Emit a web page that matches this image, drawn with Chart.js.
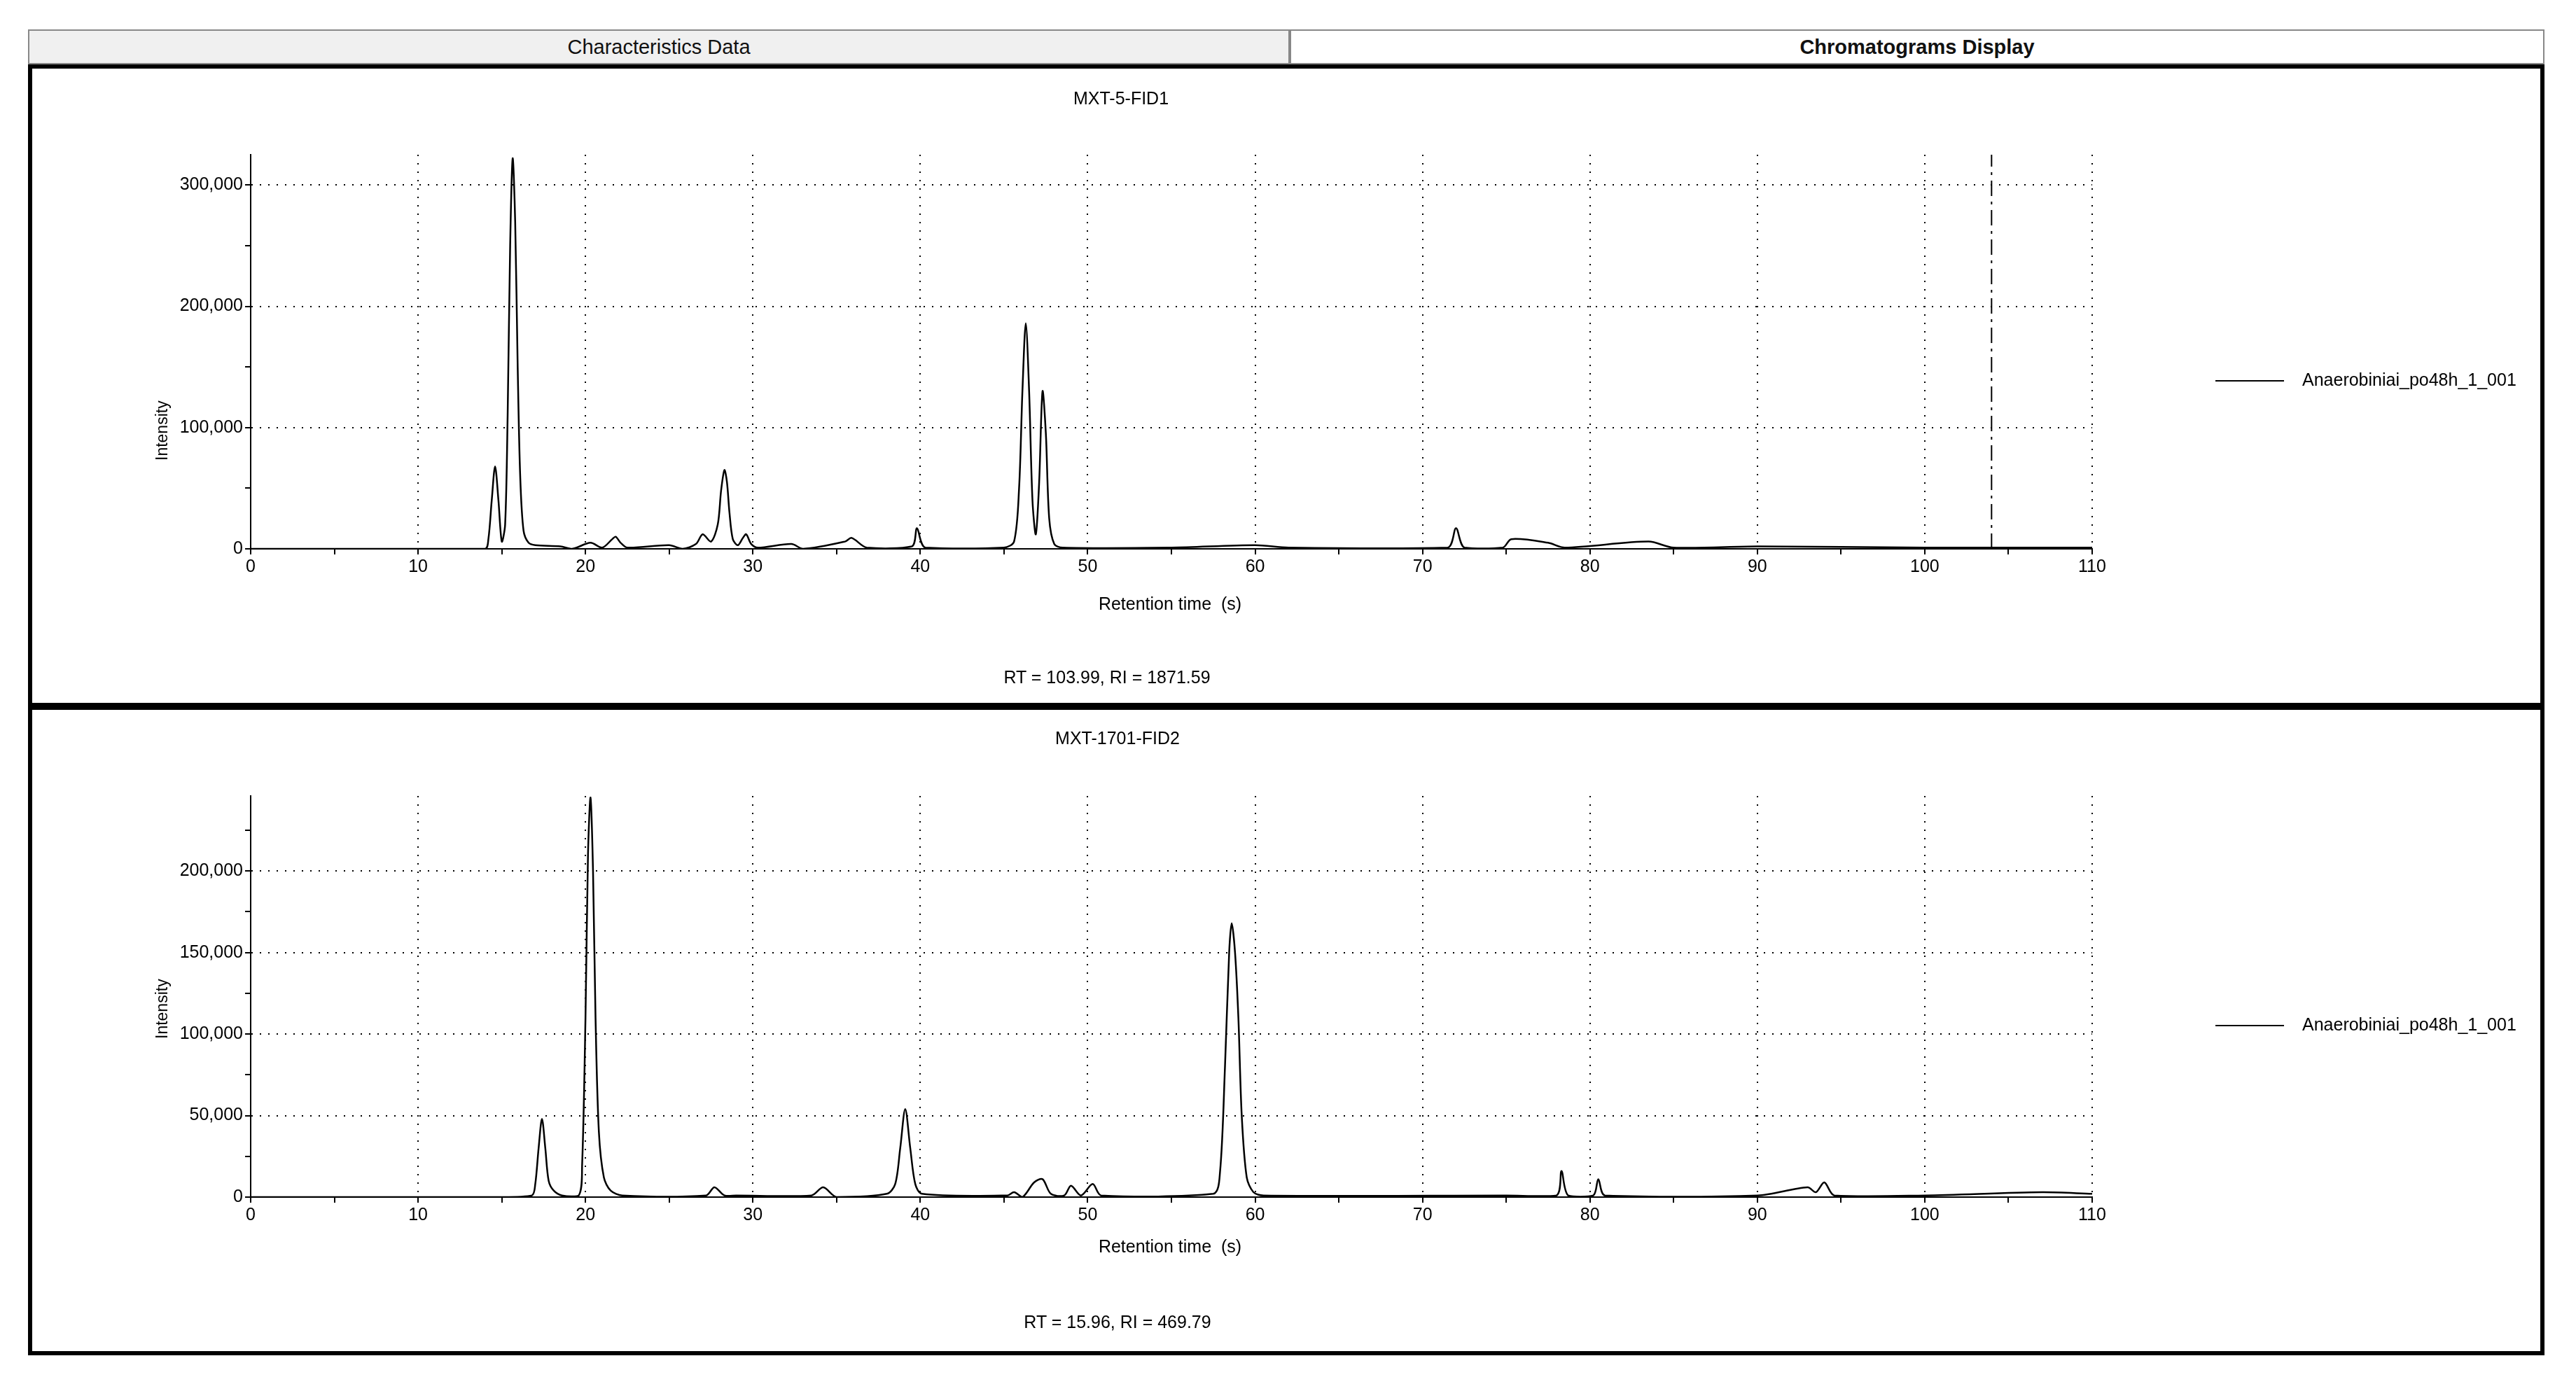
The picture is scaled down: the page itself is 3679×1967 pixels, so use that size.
<!DOCTYPE html>
<html>
<head>
<meta charset="utf-8">
<script src="https://cdn.jsdelivr.net/npm/chart.js@4.4.1/dist/chart.umd.min.js"></script>
<style>
body { margin:0; background:#fff; font-family:"Liberation Sans Narrow", "Liberation Sans", Arial, sans-serif; }
#page { position:relative; width:3679px; height:1967px; background:#fff; }
.tab { position:absolute; top:42px; height:50px; border:2px solid #888; box-sizing:border-box; background:#f0f0f0;
       text-align:center; line-height:46px; font-size:29px; color:#111; }
.panel { position:absolute; left:40px; width:3594px; border:6px solid #000; box-sizing:border-box; background:#fff; }
.txt { position:absolute; font-size:25px; color:#000; white-space:nowrap; transform:translateX(-50%); }
.ylab { position:absolute; font-size:23px; transform:rotate(-90deg); transform-origin:left top; }
.leg { position:absolute; font-size:25px; white-space:nowrap; }
.leg span.l { display:inline-block; width:98px; height:0; border-top:2px solid #000; vertical-align:middle; margin-right:26px; }
canvas { position:absolute; left:0; top:0; }
</style>
</head>
<body>
<div id="page">
  <div class="tab" style="left:40px;width:1802px;">Characteristics Data</div>
  <div class="tab" style="left:1842px;width:1792px;background:#fff;font-weight:bold;">Chromatograms Display</div>

  <div class="panel" style="top:92px;height:918px;">
    <div style="position:absolute;left:0;top:0;width:3582px;height:906px;"><canvas id="c1"></canvas></div>
    <div class="txt" style="left:1555px;top:28px;">MXT-5-FID1</div>
    <div class="ylab" style="left:172px;top:560px;">Intensity</div>
    <div class="txt" style="left:1625px;top:750px;">Retention time&nbsp; (s)</div>
    <div class="txt" style="left:1535px;top:855px;">RT = 103.99, RI = 1871.59</div>
    <div class="leg" style="left:3118px;top:430px;"><span class="l"></span>Anaerobiniai_po48h_1_001</div>
  </div>

  <div class="panel" style="top:1008px;height:928px;">
    <div style="position:absolute;left:0;top:0;width:3582px;height:916px;"><canvas id="c2"></canvas></div>
    <div class="txt" style="left:1550px;top:26px;">MXT-1701-FID2</div>
    <div class="ylab" style="left:172px;top:470px;">Intensity</div>
    <div class="txt" style="left:1625px;top:752px;">Retention time&nbsp; (s)</div>
    <div class="txt" style="left:1550px;top:860px;">RT = 15.96, RI = 469.79</div>
    <div class="leg" style="left:3118px;top:435px;"><span class="l"></span>Anaerobiniai_po48h_1_001</div>
  </div>
</div>

<script>
// MXT-5-FID1 chromatogram: retention time (s) and intensity
const rt1 = [0, 14.0, 14.2, 14.4, 14.6, 14.8, 15.0, 15.2, 15.35, 15.5, 15.65, 15.8, 15.95, 16.1, 16.3, 16.6, 17.0, 18.5, 19.2, 20.3, 21.0, 21.6, 21.8, 22.1, 22.5, 25.0, 25.8, 26.6, 27.0, 27.5, 27.9, 28.1, 28.3, 28.45, 28.6, 28.8, 29.1, 29.4, 29.6, 29.9, 30.3, 32.3, 33.0, 35.5, 35.9, 36.8, 39.5, 39.8, 40.3, 45.0, 45.6, 45.9, 46.1, 46.3, 46.5, 46.7, 46.9, 47.1, 47.3, 47.5, 47.7, 48.0, 48.5, 55, 60, 62, 71.5, 72.0, 72.5, 74.8, 75.3, 77.5, 78.5, 83.5, 85, 90, 100, 110];
const int1 = [0, 0, 8000, 40000, 68000, 40000, 6000, 20000, 110000, 250000, 322000, 270000, 150000, 60000, 15000, 5000, 3000, 2000, 0, 5000, 1000, 8000, 10000, 5000, 1000, 3000, 0, 4000, 12000, 6000, 20000, 48000, 65000, 55000, 30000, 8000, 3000, 9000, 12000, 4000, 1000, 4000, 0, 6000, 9000, 1000, 2000, 17000, 1000, 1000, 6000, 50000, 130000, 186000, 130000, 40000, 12000, 55000, 130000, 95000, 25000, 4000, 1000, 1000, 3000, 1000, 1000, 17000, 1000, 1000, 8000, 5000, 1000, 6000, 1000, 2000, 1000, 1000];

// MXT-1701-FID2 chromatogram
const rt2 = [0, 15.0, 16.8, 17.0, 17.2, 17.4, 17.6, 17.8, 18.1, 18.6, 19.6, 19.8, 20.0, 20.15, 20.3, 20.45, 20.6, 20.8, 21.1, 21.5, 22.2, 27.2, 27.7, 28.3, 29.0, 33.5, 34.2, 35.0, 38.0, 38.5, 38.8, 39.1, 39.4, 39.7, 40.1, 45.2, 45.6, 46.1, 46.8, 47.3, 47.8, 48.6, 49.0, 49.6, 50.3, 50.8, 57.5, 57.9, 58.2, 58.45, 58.6, 58.8, 59.0, 59.2, 59.5, 59.9, 60.5, 75, 78.0, 78.3, 78.7, 80.2, 80.5, 80.9, 90, 93.0, 93.5, 94.0, 94.6, 100, 107.0, 110];
const int2 = [0, 0, 1000, 8000, 30000, 48000, 30000, 10000, 4000, 1000, 1000, 20000, 110000, 210000, 245000, 200000, 110000, 40000, 12000, 4000, 1000, 1000, 6000, 1000, 1000, 1000, 6000, 0, 2000, 8000, 30000, 54000, 30000, 8000, 2000, 1000, 3000, 0, 9000, 11000, 2000, 1000, 7000, 1000, 8000, 1000, 2000, 15000, 80000, 150000, 168000, 150000, 110000, 50000, 12000, 3000, 1000, 1000, 1000, 16000, 1000, 1000, 11000, 1000, 1000, 6000, 3000, 9000, 1000, 1000, 3000, 2000];

const xTicks = [0, 10, 20, 30, 40, 50, 60, 70, 80, 90, 100, 110];
const cursorRT = 103.99;

function makeChart(id, rt, inten, yMax, yLabelStep, cursor) {
  const pts = rt.map((x, i) => ({x: x, y: inten[i]}));
  const datasets = [{data: pts, borderColor: '#000', borderWidth: 2.5, pointRadius: 0, tension: 0.3}];
  if (cursor !== null) {
    datasets.push({data: [{x: cursor, y: 0}, {x: cursor, y: yMax}], borderColor: '#000', borderWidth: 2,
      borderDash: [22, 8, 4, 8], pointRadius: 0, tension: 0});
  }
  const tickFont = {family: "'Liberation Sans Narrow', 'Liberation Sans'", size: 25};
  return new Chart(document.getElementById(id), {
    type: 'scatter',
    data: {datasets: datasets},
    options: {
      responsive: true, maintainAspectRatio: false, animation: false,
      showLine: true,
      layout: {padding: {left: 0, top: 123, right: 640, bottom: 0}},
      plugins: {legend: {display: false}, tooltip: {enabled: false}},
      scales: {
        x: {
          type: 'linear', min: 0, max: 110,
          afterFit: s => { s.height = 220; },
          afterBuildTicks: s => { s.ticks = []; for (let v = 0; v <= 110; v += 5) s.ticks.push({value: v}); },
          ticks: {color: '#000', font: tickFont,
            callback: v => xTicks.includes(v) ? String(v) : ''},
          grid: {color: c => (c.tick && c.tick.value % 10 === 0 && c.tick.value > 0) ? '#000' : 'rgba(0,0,0,0)',
            tickColor: '#000', tickLength: 8, lineWidth: 2},
          border: {color: '#000', width: 2, dash: [2, 10]}
        },
        y: {
          min: 0, max: yMax,
          afterFit: s => { s.width = 312; },
          afterBuildTicks: s => { s.ticks = []; for (let v = 0; v <= yMax; v += yLabelStep / 2) s.ticks.push({value: v}); },
          ticks: {color: '#000', font: tickFont,
            callback: v => v % yLabelStep === 0 ? v.toLocaleString('en-US') : ''},
          grid: {color: c => (c.tick && c.tick.value % yLabelStep === 0 && c.tick.value > 0) ? '#000' : 'rgba(0,0,0,0)',
            tickColor: '#000', tickLength: 8, lineWidth: 2},
          border: {color: '#000', width: 2, dash: [2, 10]}
        }
      }
    }
  });
}

makeChart('c1', rt1, int1, 325000, 100000, cursorRT);
makeChart('c2', rt2, int2, 246000, 50000, null);
</script>
</body>
</html>
